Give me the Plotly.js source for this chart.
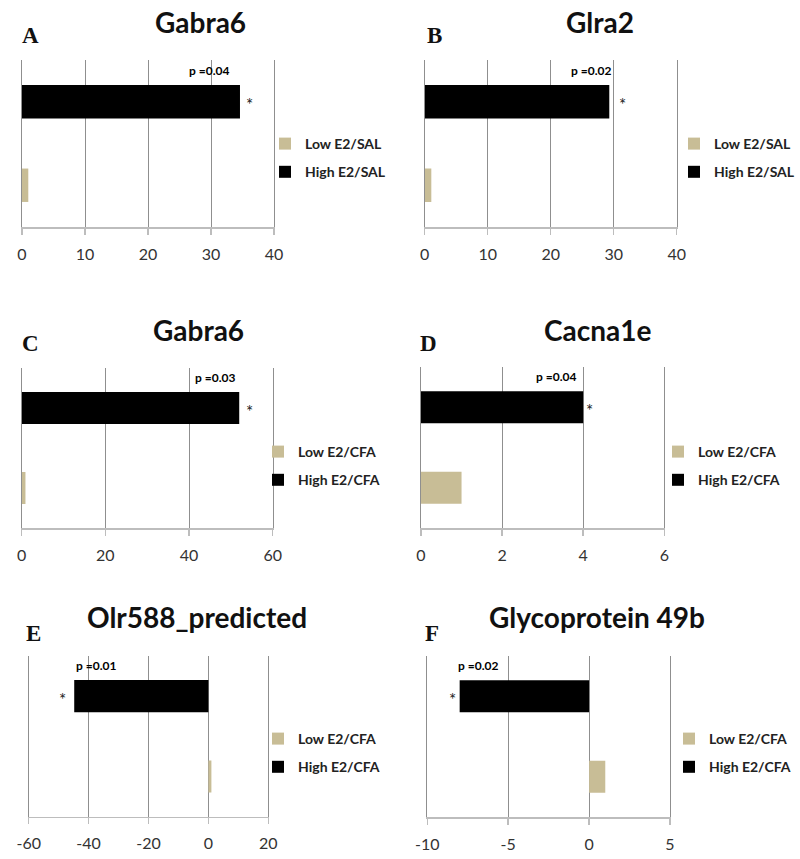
<!DOCTYPE html>
<html>
<head>
<meta charset="utf-8">
<script src="https://cdn.plot.ly/plotly-3.0.1.min.js"></script>
<style>html,body{margin:0;padding:0;background:#fff;overflow:hidden;}#chart{width:800px;height:859px;}</style>
</head>
<body>
<div id="chart"></div>
<script>
// ---- data ----
const panelLetters = ['A', 'B', 'C', 'D', 'E', 'F'];
const geneNames = ['Gabra6', 'Glra2', 'Gabra6', 'Cacna1e', 'Olr588_predicted', 'Glycoprotein 49b'];
const lowNames = ['Low E2/SAL', 'Low E2/SAL', 'Low E2/CFA', 'Low E2/CFA', 'Low E2/CFA', 'Low E2/CFA'];
const highNames = ['High E2/SAL', 'High E2/SAL', 'High E2/CFA', 'High E2/CFA', 'High E2/CFA', 'High E2/CFA'];
const lowValues = [1.0, 1.05, 0.9, 1.0, 1.0, 1.0];
const highValues = [34.6, 29.3, 52.0, 4.0, -44.8, -8.0];
const pLabels = ['p =0.04', 'p =0.02', 'p =0.03', 'p =0.04', 'p =0.01', 'p =0.02'];
const xTicks = [[0, 10, 20, 30, 40], [0, 10, 20, 30, 40], [0, 20, 40, 60], [0, 2, 4, 6], [-60, -40, -20, 0, 20], [-10, -5, 0, 5]];
const categories = ['Low', 'High'];

// ---- layout (pixels) ----
const W = 800, H = 859;
const plotBoxes = [ // [left, right, top, bottom]
  [22, 274, 60, 227], [424.7, 676.7, 60, 227],
  [21.7, 272.7, 368, 528], [421, 664.3, 367, 528],
  [28.7, 268.3, 656, 816.7], [427.3, 670, 656, 817]
];
const titlePos = [[200, 22], [600, 22], [198, 330], [597, 330], [197, 617], [597, 617]];
const letterPos = [[30, 35], [435, 35], [30, 343], [428, 343], [33, 633], [432, 633]];
const legendPos = [[265, 128], [674, 128], [258, 436], [658, 436], [258, 723], [669, 723]];
const pShift = [-9, 4, -2, -5, 0, -4];
const starShift = [10, 13, 10, 6, -12, -7];

const px = x => x / W, py = y => 1 - y / H;
const tan = '#c8bd96';
const grid = '#8f8f8f';
const font = 'Lato, "Open Sans", sans-serif';

const traces = [];
const layout = {
  width: W, height: H,
  margin: {l: 0, r: 0, t: 0, b: 0, autoexpand: false},
  paper_bgcolor: '#fff', plot_bgcolor: 'rgba(0,0,0,0)',
  barmode: 'overlay', bargap: 0.6,
  annotations: [],
  font: {family: font, color: '#222'}
};

for (let i = 0; i < 6; i++) {
  const s = i === 0 ? '' : String(i + 1);
  const xa = 'x' + s, ya = 'y' + s;
  const lg = i === 0 ? 'legend' : 'legend' + (i + 1);
  traces.push({
    type: 'bar', orientation: 'h', y: [categories[0]], x: [lowValues[i]],
    xaxis: xa, yaxis: ya, name: lowNames[i], legend: lg, legendgroup: 'l' + i,
    marker: {color: tan, line: {width: 0}}, hoverinfo: 'x'
  });
  traces.push({
    type: 'bar', orientation: 'h', y: [categories[1]], x: [highValues[i]],
    xaxis: xa, yaxis: ya, name: highNames[i], legend: lg, legendgroup: 'h' + i,
    marker: {color: '#000', line: {width: 0}}, hoverinfo: 'x'
  });
  const b = plotBoxes[i];
  const t = xTicks[i];
  layout['xaxis' + s] = {
    domain: [px(b[0]), px(b[1])], anchor: ya,
    range: [t[0], t[t.length - 1]], tickmode: 'array', tickvals: t,
    ticktext: t.map(v => String(v)),
    showgrid: true, gridcolor: grid, gridwidth: 1, zeroline: false,
    showline: true, linecolor: '#bdbdbd', linewidth: 1.5,
    ticks: 'outside', ticklen: 6, tickcolor: '#bdbdbd', tickwidth: 1.5,
    ticklabelstandoff: 6,
    tickfont: {family: font, size: 16, color: '#333'}, fixedrange: true
  };
  layout['yaxis' + s] = {
    domain: [py(b[3]), py(b[2])], anchor: xa,
    type: 'category', categoryorder: 'array', categoryarray: categories,
    range: [-0.5, 1.5], showticklabels: false, showgrid: false, zeroline: false,
    showline: true, mirror: true, linecolor: grid, linewidth: 1,
    ticks: '', fixedrange: true
  };
  layout[lg] = {
    x: px(legendPos[i][0]), y: py(legendPos[i][1]), xanchor: 'left', yanchor: 'top',
    xref: 'paper', yref: 'paper',
    font: {family: font, size: 14, color: '#222', weight: 'bold'},
    traceorder: 'grouped', tracegroupgap: 7, itemwidth: 30, bgcolor: 'rgba(0,0,0,0)'
  };
  layout.annotations.push({
    xref: 'paper', yref: 'paper', x: px(titlePos[i][0]), y: py(titlePos[i][1]),
    text: geneNames[i], showarrow: false, xanchor: 'center', yanchor: 'middle',
    font: {family: font, size: 28, color: '#111', weight: 'bold'}
  });
  layout.annotations.push({
    xref: 'paper', yref: 'paper', x: px(letterPos[i][0]), y: py(letterPos[i][1]),
    text: panelLetters[i], showarrow: false, xanchor: 'center', yanchor: 'middle',
    font: {family: '"Liberation Serif", "DejaVu Serif", serif', size: 23, color: '#111', weight: 'bold'}
  });
  const neg = highValues[i] < 0;
  layout.annotations.push({
    xref: xa, yref: ya, x: highValues[i], y: categories[1],
    text: pLabels[i], showarrow: false, xanchor: neg ? 'left' : 'right', yanchor: 'middle',
    xshift: pShift[i], yshift: 31,
    font: {family: font, size: 12, color: '#000', weight: 'bold'}
  });
  layout.annotations.push({
    xref: xa, yref: ya, x: highValues[i], y: categories[1],
    text: '*', showarrow: false, xanchor: 'center', yanchor: 'middle',
    xshift: starShift[i], yshift: -3,
    font: {family: font, size: 17, color: '#222'}
  });
}

Plotly.newPlot('chart', traces, layout, {displayModeBar: false, staticPlot: true});
</script>
</body>
</html>
